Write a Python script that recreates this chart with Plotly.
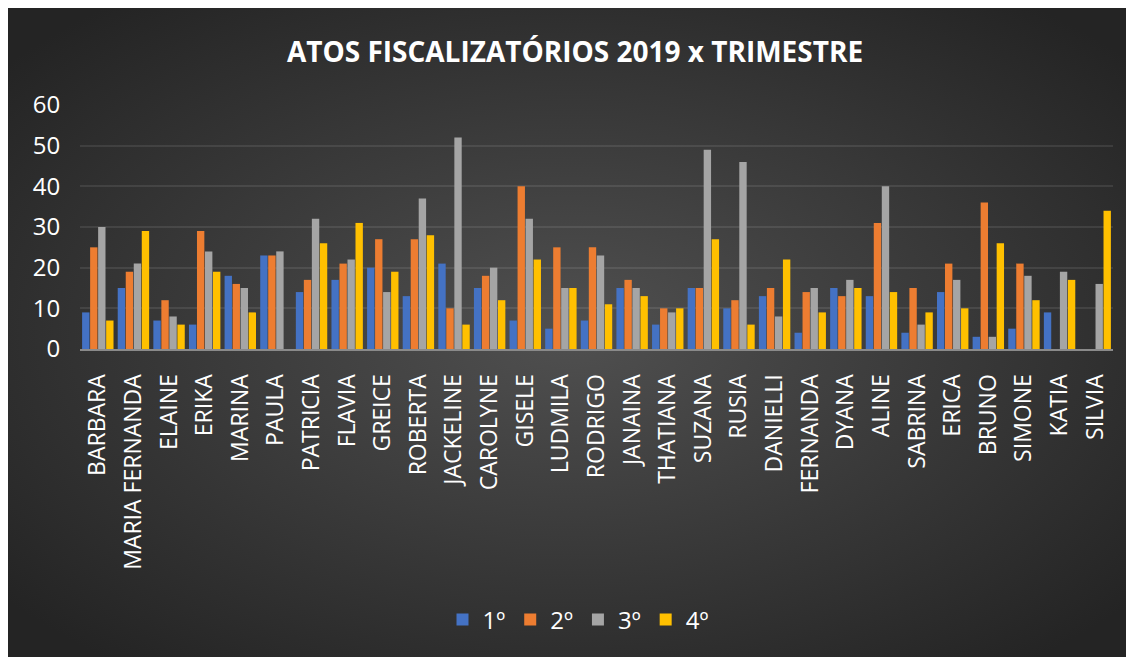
import base64
import plotly.graph_objects as go

categories = ["BARBARA", "MARIA FERNANDA", "ELAINE", "ERIKA", "MARINA", "PAULA",
              "PATRICIA", "FLAVIA", "GREICE", "ROBERTA", "JACKELINE", "CAROLYNE",
              "GISELE", "LUDMILA", "RODRIGO", "JANAINA", "THATIANA", "SUZANA",
              "RUSIA", "DANIELLI", "FERNANDA", "DYANA", "ALINE", "SABRINA",
              "ERICA", "BRUNO", "SIMONE", "KATIA", "SILVIA"]

q1 = [9, 15, 7, 6, 18, 23, 14, 17, 20, 13, 21, 15, 7, 5, 7, 15, 6, 15, 10, 13, 4, 15, 13, 4, 14, 3, 5, 9, None]
q2 = [25, 19, 12, 29, 16, 23, 17, 21, 27, 27, 10, 18, 40, 25, 25, 17, 10, 15, 12, 15, 14, 13, 31, 15, 21, 36, 21, None, None]
q3 = [30, 21, 8, 24, 15, 24, 32, 22, 14, 37, 52, 20, 32, 15, 23, 15, 9, 49, 46, 8, 15, 17, 40, 6, 17, 3, 18, 19, 16]
q4 = [7, 29, 6, 19, 9, None, 26, 31, 19, 28, 6, 12, 22, 15, 11, 13, 10, 27, 6, 22, 9, 15, 14, 9, 10, 26, 12, 17, 34]

series_names = ["1º", "2º", "3º", "4º"]
series_colors = ["#4472C4", "#ED7D31", "#A5A5A5", "#FFC000"]
y_ticks = [0, 10, 20, 30, 40, 50, 60]

# page has an 8px body margin, so the figure sits at (8, 8)
W, H = 1126, 649
L, R, T, B = 72, 21, 97, 308
pw, ph = W - L - R, H - T - B

svg = f'''<svg xmlns="http://www.w3.org/2000/svg" width="{W}" height="{H}" viewBox="0 0 {W} {H}" preserveAspectRatio="none">
<defs><radialGradient id="g" cx="50%" cy="50%" r="65%" gradientUnits="objectBoundingBox">
<stop offset="0%" stop-color="rgb(80,80,80)"/>
<stop offset="100%" stop-color="rgb(36,36,36)"/>
</radialGradient></defs>
<rect x="0" y="0" width="{W}" height="{H}" fill="url(#g)"/></svg>'''
bg_src = "data:image/svg+xml;base64," + base64.b64encode(svg.encode()).decode()

fig = go.Figure()
for name, vals, col in zip(series_names, [q1, q2, q3, q4], series_colors):
    fig.add_trace(go.Bar(x=categories, y=vals, name=name, marker=dict(color=col, line=dict(width=0))))

fig.add_layout_image(dict(
    source=bg_src, xref="paper", yref="paper",
    x=-L / pw, y=(H - B) / ph,
    sizex=W / pw, sizey=H / ph,
    xanchor="left", yanchor="top", sizing="stretch", layer="below"))

fig.update_layout(
    width=W, height=H,
    margin=dict(l=L, r=R, t=T, b=B, pad=0),
    paper_bgcolor="#2a2a2a", plot_bgcolor="rgba(0,0,0,0)",
    font=dict(family="Open Sans, sans-serif", color="white"),
    title=dict(text="<b>ATOS FISCALIZATÓRIOS 2019 x TRIMESTRE</b>", x=(575 - 8) / W, xanchor="center",
               y=1 - 44 / H, yanchor="middle", font=dict(size=28, color="white")),
    barmode="group", bargap=0.1, bargroupgap=0.08,
    showlegend=True,
    legend=dict(orientation="h", x=(578 - 8 - L) / pw, xanchor="center", y=(H - B - 612) / ph, yanchor="middle",
                font=dict(size=24, color="white"), bgcolor="rgba(0,0,0,0)", itemwidth=30,
                traceorder="normal"),
    xaxis=dict(tickangle=-90, tickfont=dict(size=23, color="white"), showgrid=False,
               showline=True, linecolor="#8a8a8a", linewidth=2,
               ticks="outside", ticklen=14, tickcolor="rgba(0,0,0,0)"),
    yaxis=dict(range=[0, 60], tickvals=y_ticks, tickfont=dict(size=24, color="white"),
               showgrid=True, gridcolor="rgba(255,255,255,0.09)", gridwidth=2,
               zeroline=False, showline=False,
               ticks="outside", ticklen=14, tickcolor="rgba(0,0,0,0)"),
)

fig.write_html("out.html")
